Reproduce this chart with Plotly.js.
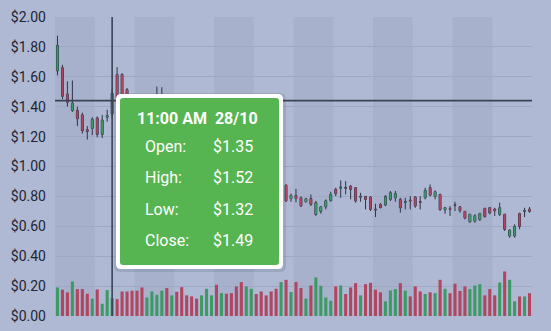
<!DOCTYPE html>
<html><head><meta charset="utf-8">
<script src="https://cdn.plot.ly/plotly-3.0.1.min.js"></script>
<style>html,body{margin:0;padding:0;background:#afb9d3;}#chart{width:551px;height:331px;}</style>
</head><body><div id="chart"></div>
<script>
// ---- data (hourly candles, 28/10 00:00 onwards) ----
const openP = [1.64,1.66,1.485,1.375,1.375,1.345,1.245,1.255,1.325,1.215,1.33,1.35,1.615,1.615,1.515,1.42,1.35,1.28,1.22,1.29,1.38,1.45,1.46,1.37,1.40,1.31,1.22,1.16,1.10,1.05,1.08,1.13,1.15,1.07,1.09,1.02,0.97,0.92,0.87,0.91,0.94,0.90,0.88,0.86,0.84,0.82,0.876,0.785,0.805,0.79,0.765,0.785,0.68,0.70,0.73,0.773,0.847,0.855,0.86,0.869,0.858,0.795,0.80,0.796,0.715,0.747,0.742,0.78,0.79,0.78,0.76,0.775,0.796,0.765,0.791,0.858,0.80,0.813,0.71,0.72,0.745,0.73,0.70,0.63,0.635,0.645,0.72,0.725,0.715,0.68,0.68,0.535,0.535,0.685,0.70,0.715];
const highP = [1.875,1.68,1.57,1.575,1.40,1.36,1.27,1.33,1.335,1.345,1.38,1.52,1.665,1.625,1.525,1.44,1.37,1.30,1.31,1.40,1.535,1.53,1.465,1.42,1.41,1.32,1.24,1.18,1.12,1.10,1.15,1.17,1.16,1.11,1.10,1.04,0.99,0.94,0.93,0.96,0.95,0.92,0.90,0.88,0.86,0.92,0.88,0.818,0.85,0.80,0.79,0.813,0.77,0.736,0.78,0.831,0.858,0.907,0.902,0.876,0.862,0.824,0.802,0.802,0.751,0.755,0.809,0.836,0.836,0.791,0.791,0.802,0.802,0.802,0.858,0.88,0.84,0.818,0.73,0.736,0.764,0.736,0.702,0.684,0.68,0.691,0.724,0.729,0.724,0.758,0.684,0.58,0.613,0.691,0.724,0.729];
const lowP = [1.61,1.45,1.40,1.365,1.27,1.22,1.18,1.21,1.195,1.19,1.30,1.32,1.44,1.43,1.40,1.33,1.26,1.20,1.20,1.27,1.36,1.40,1.35,1.33,1.30,1.20,1.14,1.08,1.03,1.02,1.06,1.10,1.05,1.04,1.00,0.95,0.90,0.85,0.85,0.89,0.88,0.86,0.84,0.82,0.80,0.81,0.764,0.764,0.76,0.73,0.758,0.736,0.67,0.684,0.713,0.764,0.802,0.791,0.813,0.78,0.758,0.764,0.713,0.702,0.662,0.72,0.736,0.769,0.764,0.691,0.713,0.713,0.724,0.713,0.78,0.80,0.78,0.702,0.684,0.669,0.702,0.691,0.647,0.624,0.624,0.636,0.658,0.68,0.669,0.669,0.569,0.524,0.524,0.58,0.662,0.691];
const closeP = [1.81,1.47,1.43,1.425,1.32,1.24,1.235,1.315,1.215,1.31,1.34,1.49,1.46,1.45,1.42,1.35,1.28,1.22,1.29,1.38,1.45,1.46,1.37,1.40,1.31,1.22,1.16,1.10,1.05,1.08,1.13,1.15,1.07,1.09,1.02,0.97,0.92,0.87,0.91,0.94,0.90,0.88,0.86,0.84,0.82,0.89,0.769,0.807,0.785,0.736,0.784,0.747,0.758,0.73,0.77,0.813,0.818,0.862,0.855,0.847,0.769,0.80,0.78,0.713,0.71,0.725,0.80,0.824,0.818,0.724,0.765,0.77,0.736,0.76,0.84,0.809,0.83,0.713,0.725,0.715,0.74,0.705,0.655,0.68,0.67,0.685,0.665,0.69,0.705,0.724,0.58,0.575,0.60,0.60,0.705,0.70];
const volume = [0.191,0.176,0.158,0.231,0.18,0.18,0.149,0.116,0.178,0.082,0.173,0.12,0.113,0.164,0.164,0.169,0.169,0.191,0.124,0.164,0.142,0.169,0.187,0.138,0.162,0.193,0.138,0.131,0.116,0.138,0.182,0.138,0.209,0.153,0.149,0.153,0.198,0.227,0.198,0.182,0.147,0.164,0.138,0.164,0.182,0.227,0.242,0.16,0.227,0.187,0.116,0.204,0.258,0.202,0.124,0.102,0.198,0.204,0.147,0.191,0.22,0.138,0.213,0.222,0.176,0.158,0.098,0.171,0.18,0.22,0.169,0.131,0.198,0.164,0.147,0.158,0.153,0.242,0.182,0.153,0.216,0.167,0.198,0.18,0.204,0.213,0.138,0.18,0.138,0.224,0.298,0.242,0.098,0.131,0.131,0.153];
const yTickVals = [0,0.2,0.4,0.6,0.8,1.0,1.2,1.4,1.6,1.8,2.0];
const yTickText = ['$0.00','$0.20','$0.40','$0.60','$0.80','$1.00','$1.20','$1.40','$1.60','$1.80','$2.00'];
const hoverIndex = 11;
const hoverTitle = '11:00 AM  28/10';
const crosshairPrice = 1.44;
const rowLabels = ['Open:','High:','Low:','Close:'];
const candlesPerBand = 8;

// ---- styling ----
const BG = '#afb9d3', BAND = '#a7b1cc', GRID = '#9fa9c5';
const GREEN = '#3d9a66', RED = '#b2455f', WICK = '#2d3546';
const M = {l:55, r:19, t:17, b:15};
const W = 551 - M.l - M.r, H = 331 - M.t - M.b;
const xs = openP.map((_, i) => i);
const volColors = xs.map(i => closeP[i] >= openP[i] ? GREEN : RED);

const px = x => (x - M.l) / W;
const py = y => (331 - M.b - y) / H;
function rr(x0, y0, x1, y1, r) {
  const a = px(x0), b = px(x1), c = py(y0), d = py(y1), rx = r / W, ry = r / H;
  return `M ${a+rx},${c} L ${b-rx},${c} Q ${b},${c} ${b},${c-ry} L ${b},${d+ry} Q ${b},${d} ${b-rx},${d} L ${a+rx},${d} Q ${a},${d} ${a},${d+ry} L ${a},${c-ry} Q ${a},${c} ${a+rx},${c} Z`;
}

const traces = [
  {type:'bar', name:'Volume', x:xs, y:volume, width:0.62,
   marker:{color:volColors, line:{width:0}}, hoverinfo:'skip'},
  {type:'candlestick', name:'wick', x:xs, open:openP, high:highP, low:lowP, close:closeP,
   increasing:{line:{color:WICK, width:1}, fillcolor:WICK},
   decreasing:{line:{color:WICK, width:1}, fillcolor:WICK}, hoverinfo:'skip'},
  {type:'candlestick', name:'Price', x:xs, open:openP, high:highP, low:lowP, close:closeP,
   increasing:{line:{color:GREEN, width:0}, fillcolor:GREEN},
   decreasing:{line:{color:RED, width:0}, fillcolor:RED}, hoverinfo:'skip'}
];

const shapes = [];
const nBands = Math.ceil(xs.length / candlesPerBand);
for (let k = 0; k < nBands; k += 2) {
  shapes.push({type:'rect', xref:'x', yref:'paper', x0:k*candlesPerBand-0.5, x1:(k+1)*candlesPerBand-0.5,
    y0:0, y1:1, fillcolor:BAND, line:{width:0}, layer:'below'});
}
shapes.push({type:'line', xref:'x', yref:'paper', x0:hoverIndex, x1:hoverIndex, y0:0, y1:1,
  line:{color:'#3a4356', width:1.6}, layer:'above'});
shapes.push({type:'line', xref:'paper', yref:'y', x0:0, x1:1, y0:crosshairPrice, y1:crosshairPrice,
  line:{color:'#3a4356', width:1.8}, layer:'above'});
shapes.push({type:'path', xref:'paper', yref:'paper', path:rr(114,93,286,272,6), fillcolor:'rgba(40,50,80,0.13)', line:{width:0}, layer:'above'});
shapes.push({type:'path', xref:'paper', yref:'paper', path:rr(116,94,283,269,5), fillcolor:'#ffffff', line:{width:0}, layer:'above'});
shapes.push({type:'path', xref:'paper', yref:'paper', path:rr(120,98,279,265,3), fillcolor:'#56b550', line:{width:0}, layer:'above'});

const rowValues = [openP[hoverIndex], highP[hoverIndex], lowP[hoverIndex], closeP[hoverIndex]];
const annotations = [{xref:'paper', yref:'paper', x:px(197), y:py(118), text:'<b>'+hoverTitle+'</b>',
  showarrow:false, xanchor:'center', yanchor:'middle', font:{family:'Roboto', size:16, color:'#ffffff'}}];
const rowY = [146, 177.5, 209, 240.5];
rowLabels.forEach((lab, i) => {
  annotations.push({xref:'paper', yref:'paper', x:px(143), y:py(rowY[i]), text:lab, showarrow:false,
    xanchor:'left', yanchor:'middle', font:{family:'Roboto', size:16, color:'#ffffff'}});
  annotations.push({xref:'paper', yref:'paper', x:px(255), y:py(rowY[i]), text:'$'+rowValues[i].toFixed(2), showarrow:false,
    xanchor:'right', yanchor:'middle', font:{family:'Roboto', size:16, color:'#ffffff'}});
});

const layout = {
  width:551, height:331, margin:M, paper_bgcolor:BG, plot_bgcolor:BG,
  showlegend:false, hovermode:false, boxgap:0.45, barmode:'overlay',
  font:{family:'Roboto', color:'#1f2535'},
  xaxis:{range:[-0.5, xs.length-0.5], visible:false, showgrid:false, zeroline:false, rangeslider:{visible:false}, fixedrange:true},
  yaxis:{range:[0,2], tickmode:'array', tickvals:yTickVals, ticktext:yTickText, showgrid:true, gridcolor:GRID, gridwidth:1,
    zeroline:false, showline:false, ticks:'', ticklabelstandoff:8, tickfont:{family:'Roboto', size:14, color:'#1f2535'}, fixedrange:true},
  shapes:shapes, annotations:annotations
};
Plotly.newPlot('chart', traces, layout, {displayModeBar:false, staticPlot:true});
</script></body></html>
